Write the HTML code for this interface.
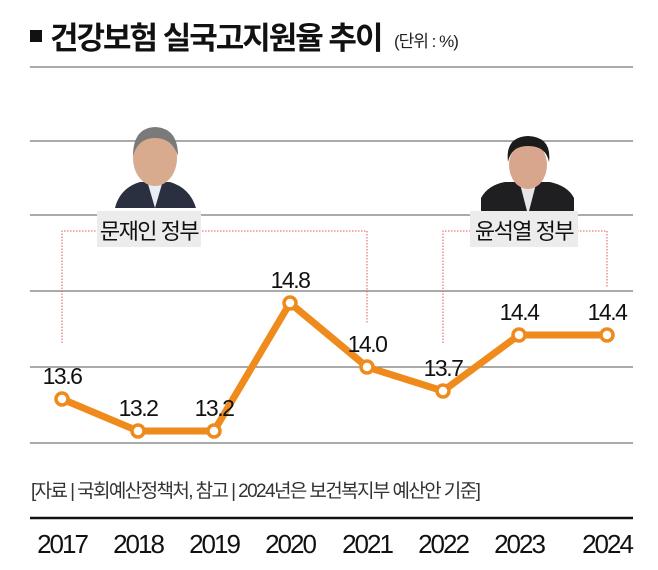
<!DOCTYPE html>
<html><head><meta charset="utf-8"><style>
body{margin:0;background:#fff;width:658px;height:565px;overflow:hidden;font-family:"Liberation Sans","Noto Sans CJK KR",sans-serif}
</style></head><body>
<svg width="658" height="565" viewBox="0 0 658 565" xmlns="http://www.w3.org/2000/svg">
<rect x="30" y="30" width="12" height="12" fill="#111"/>
<text x="50" y="49" font-size="31" font-weight="bold" fill="#111" letter-spacing="-2" font-family="Liberation Sans, Noto Sans CJK KR, sans-serif">건강보험 실국고지원율 추이</text>
<text x="394" y="47" font-size="17" fill="#222" letter-spacing="-1" font-family="Liberation Sans, Noto Sans CJK KR, sans-serif">(단위 : %)</text>
<g id="grid"></g>
<g>
<path d="M115 208 Q120 188 140 182 L170 182 Q190 188 196 208 Z" fill="#2a3040"/>
<path d="M148 184 L155 208 L162 184 Z" fill="#e8eef4"/>
<ellipse cx="155" cy="158" rx="22" ry="28" fill="#d9ab8e"/>
<path d="M133 156 Q133 128 155 127 Q178 128 178 156 Q172 138 155 138 Q138 138 133 156 Z" fill="#7a7a7a"/>
</g>
<g>
<path d="M481 215 L481 198 Q488 185 505 182 L550 182 Q568 186 574 198 L574 215 Z" fill="#1f1f22"/>
<path d="M520 184 L528 215 L536 184 Z" fill="#e6e6e6"/>
<ellipse cx="528" cy="165" rx="19" ry="24" fill="#d7a68c"/>
<path d="M508 162 Q505 137 528 136 Q552 137 549 162 Q546 146 528 146 Q511 146 508 162 Z" fill="#1b1b1b"/>
</g>
<g id="brackets"></g>
<g id="series"></g>
<text x="31" y="497" font-size="19" fill="#333" letter-spacing="-1.6" font-family="Liberation Sans, Noto Sans CJK KR, sans-serif">[자료 | 국회예산정책처, 참고 | 2024년은 보건복지부 예산안 기준]</text>
<line x1="30" y1="518" x2="633" y2="518" stroke="#111" stroke-width="2.5"/>
<g id="xaxis"></g>
</svg>
<script>
const years=["2017","2018","2019","2020","2021","2022","2023","2024"];
const values=[13.6,13.2,13.2,14.8,14.0,13.7,14.4,14.4];
const valueLabels=["13.6","13.2","13.2","14.8","14.0","13.7","14.4","14.4"];
const gridYs=[67,141,215,291,367,443];
const NS="http://www.w3.org/2000/svg";
const xPos=[62,138,214,290,367,443,519,607];
function xs(i){return xPos[i];}
function ys(v){return 431-(v-13.2)*80;}
function mk(t,a,p){const e=document.createElementNS(NS,t);for(const k in a)e.setAttribute(k,a[k]);p.appendChild(e);return e;}
const grid=document.getElementById('grid');
gridYs.forEach(y=>{const l=mk('line',{x1:30,y1:y,x2:633,y2:y,stroke:'#777','stroke-width':1.3},grid);

});
const br=document.getElementById('brackets');
function bracket(i1,i2,yb1,yb2,label,lx,lw,name){
 const p=mk('path',{d:`M${xs(i1)} ${yb1} L${xs(i1)} 231 L${xs(i2)} 231 L${xs(i2)} ${yb2}`,fill:'none',stroke:'#e05a5a','stroke-width':1,'stroke-dasharray':'1.5 1.5'},br);
 
 
 const r=mk('rect',{x:lx,y:211,width:lw,height:36,fill:'#ececec'},br);
 
 
 const t=mk('text',{x:lx+lw/2,y:239,'font-size':22,'text-anchor':'middle',fill:'#111','letter-spacing':-1.5},br);
 t.textContent=label;
 
 
}
bracket(0,4,343,323,'문재인 정부',97,104,'moon-government');
bracket(5,7,343,287,'윤석열 정부',470,108,'yoon-government');
const s=document.getElementById('series');
const pl=mk('polyline',{points:values.map((v,i)=>xs(i)+','+ys(v)).join(' '),fill:'none',stroke:'#ef8a1c','stroke-width':7,'stroke-linejoin':'round'},s);


values.forEach((v,i)=>{
 const c=mk('circle',{cx:xs(i),cy:ys(v),r:6,fill:'#fff',stroke:'#ef8a1c','stroke-width':3.5},s);
 
 
 const t=mk('text',{x:xs(i),y:ys(v)-15,'font-size':23,'text-anchor':'middle',fill:'#111','letter-spacing':-1.5},s);
 t.textContent=valueLabels[i];
 
 
});
const xa=document.getElementById('xaxis');
years.forEach((y,i)=>{
 const t=mk('text',{x:xs(i),y:553,'font-size':26,'text-anchor':'middle',fill:'#111','letter-spacing':-2},xa);
 t.textContent=y;
 
 
});
</script>
</body></html>
